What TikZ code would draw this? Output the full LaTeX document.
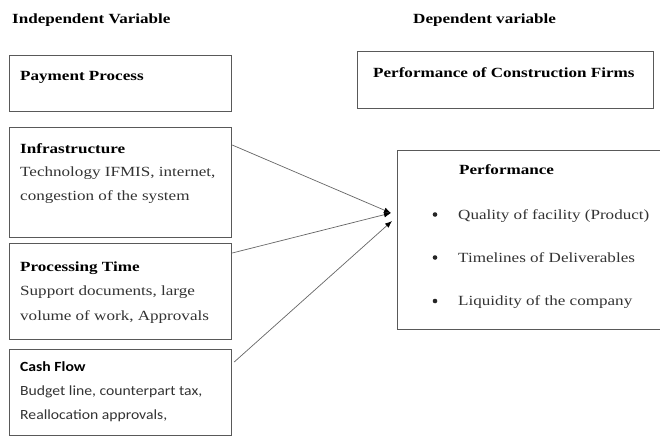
\documentclass[tikz,border=0pt]{standalone}
\usepackage{fontspec}
\setmainfont[FakeStretch=1.22]{Liberation Serif}
\newfontfamily\calib[FakeStretch=1.12]{Carlito}
\usetikzlibrary{arrows.meta}
\begin{document}
\begin{tikzpicture}[x=1pt,y=-1pt,
  box/.style={draw=black!65,line width=1.2pt,anchor=north west,inner sep=0pt},
  txt/.style={anchor=base west,inner sep=0pt,text=black!80,font=\fontsize{14}{24}\selectfont},
  head/.style={txt,text=black,font=\fontsize{14}{24}\selectfont\bfseries},
  ctxt/.style={txt,font=\fontsize{14}{24}\calib},
  chead/.style={ctxt,text=black,font=\fontsize{14}{24}\calib\bfseries},
  dot/.style={circle,fill=black!85,inner sep=0pt,minimum size=4.6pt},
  link/.style={draw=black!60,line width=0.7pt,-{Latex[length=7pt,width=5.5pt,black]}}]
\clip (0,0) rectangle (660,437);
\fill[white] (0,0) rectangle (660,437);
\node[box,minimum width=222pt,minimum height=56pt] (pay) at (9,55) {};
\node[box,minimum width=222pt,minimum height=110pt] (infra) at (9,127) {};
\node[box,minimum width=222pt,minimum height=96pt] (proc) at (9,243) {};
\node[box,minimum width=222pt,minimum height=86pt] (cash) at (9,349) {};
\node[box,minimum width=296pt,minimum height=57pt] (firms) at (357,51) {};
\node[box,minimum width=270pt,minimum height=179pt] (perf) at (397,150) {};
\node[head] (indep) at (12,23) {Independent Variable};
\node[head] (dep) at (413,23) {Dependent variable};
\node[head] (payT) at (20,80) {Payment Process};
\node[head] (firmsT) at (373,77.5) {Performance of Construction Firms};
\node[head] (infraT) at (20,153) {Infrastructure};
\node[txt] (infraA) at (20,176.5) {Technology IFMIS, internet,};
\node[txt] (infraB) at (20,200.5) {congestion of the system};
\node[head] (procT) at (20,271) {Processing Time};
\node[txt] (procA) at (20,295) {Support documents, large};
\node[txt] (procB) at (20,320) {volume of work, Approvals};
\node[chead] (cashT) at (20,371) {Cash Flow};
\node[ctxt] (cashA) at (20,395) {Budget line, counterpart tax,};
\node[ctxt] (cashB) at (20,419) {Reallocation approvals,};
\node[head] (perfT) at (459,174) {Performance};
\node[dot] (b1) at (435,214.5) {};
\node[txt] (q1) at (458,219) {Quality of facility (Product)};
\node[dot] (b2) at (435,257.5) {};
\node[txt] (q2) at (458,262) {Timelines of Deliverables};
\node[dot] (b3) at (435,301) {};
\node[txt] (q3) at (458,305.5) {Liquidity of the company};
\coordinate (hubA) at (391,213);
\coordinate (hubB) at (392,221);
\draw[link] ([yshift=-18pt]infra.north east) -- (hubA);
\draw[link] ([yshift=-10pt]proc.north east) -- (hubA);
\draw[link] ([xshift=2pt,yshift=-13pt]cash.north east) -- (hubB);
\end{tikzpicture}
\end{document}
